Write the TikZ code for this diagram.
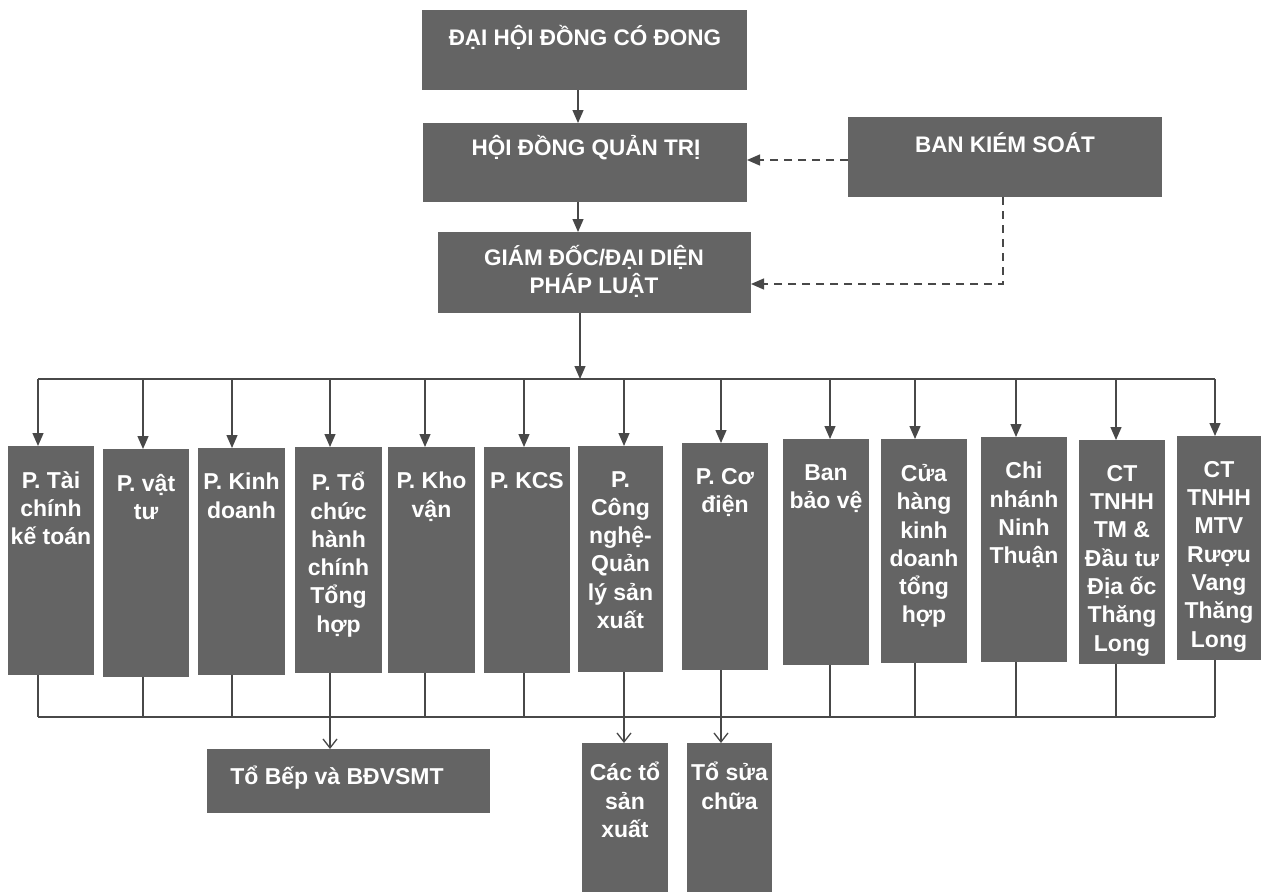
\documentclass[tikz,border=0pt]{standalone}
\usepackage{fontspec}
\setmainfont{Liberation Sans}
\usetikzlibrary{arrows.meta}
\definecolor{boxgray}{RGB}{100,100,100}
\definecolor{linegray}{RGB}{72,72,72}
\newcommand\orgrect[5]{%
  \node[orgbox, minimum width={(#4-#2)*1pt}, minimum height={(#5-#3)*1pt}] (#1) at ({(#2+#4)/2},{(#3+#5)/2}) {};}
\newcommand\deptunit[7]{%
  \orgrect{d#1}{#2}{#3}{#4}{#5}
  \node[deptlbl] (t#1) at ([yshift=-25pt]d#1.north) {#7};
  \coordinate (u#1) at (#6,379);
  \coordinate (l#1) at (#6,717);
  \draw[arr] (u#1) -- (u#1 |- d#1.north);}
\begin{document}
\begin{tikzpicture}[x=1pt,y=-1pt,
  orgbox/.style={fill=boxgray, draw=none, inner sep=0pt, outer sep=0pt},
  lbl/.style={text=white, font=\bfseries\fontsize{22.5}{28}\selectfont, align=center, inner sep=0pt},
  deptlbl/.style={text=white, font=\bfseries\fontsize{23}{28.3}\selectfont, align=center, inner sep=0pt, anchor=north},
  conn/.style={draw=linegray, line width=1.3pt},
  arr/.style={conn, -{Triangle[length=13pt,width=11pt]}},
  openarr/.style={conn, -{Straight Barb[length=9pt,width=14pt]}},
  dasharr/.style={conn, dash pattern=on 8pt off 6pt, -{Triangle[length=13pt,width=11pt]}},
]
\useasboundingbox[fill=white] (0,0) rectangle (1262,892);

% top level boxes
\orgrect{A}{422}{10}{747}{90}
\node[lbl] (tA) at (585,37) {ĐẠI HỘI ĐỒNG CÓ ĐONG};
\orgrect{B}{423}{123}{747}{202}
\node[lbl] (tB) at (586,148) {HỘI ĐỒNG QUẢN TRỊ};
\orgrect{C}{438}{232}{751}{313}
\node[lbl] (tC) at (594,271) {GIÁM ĐỐC/ĐẠI DIỆN\\PHÁP LUẬT};
\orgrect{D}{848}{117}{1162}{197}
\node[lbl] (tD) at (1005,143) {BAN KIÉM SOÁT};

\coordinate (ab) at (578,0);
\draw[arr] (A.south -| ab) -- (B.north -| ab);
\draw[arr] (B.south -| ab) -- (C.north -| ab);

\coordinate (dk) at (1003,284);
\coordinate (dj) at (848,160);
\draw[dasharr] (dj) -- (dj -| B.east);
\draw[dasharr] (D.south -| dk) -- (dk) -- (dk -| C.east);

% departments
\deptunit{1}{8}{446}{94}{675}{38}{P. Tài\\chính\\kế toán}
\deptunit{2}{103}{449}{189}{677}{143}{P. vật\\tư}
\deptunit{3}{198}{448}{285}{675}{232}{P. Kinh\\doanh}
\deptunit{4}{295}{447}{382}{673}{330}{P. Tổ\\chức\\hành\\chính\\Tổng\\hợp}
\deptunit{5}{388}{447}{475}{673}{425}{P. Kho\\vận}
\deptunit{6}{484}{447}{570}{673}{524}{P. KCS}
\deptunit{7}{578}{446}{663}{672}{624}{P.\\Công\\nghệ-\\Quản\\lý sản\\xuất}
\deptunit{8}{682}{443}{768}{670}{721}{P. Cơ\\điện}
\deptunit{9}{783}{439}{869}{665}{830}{Ban\\bảo vệ}
\deptunit{10}{881}{439}{967}{663}{915}{Cửa\\hàng\\kinh\\doanh\\tổng\\hợp}
\deptunit{11}{981}{437}{1067}{662}{1016}{Chi\\nhánh\\Ninh\\Thuận}
\deptunit{12}{1079}{440}{1165}{664}{1116}{CT\\TNHH\\TM \&\\Đầu tư\\Địa ốc\\Thăng\\Long}
\deptunit{13}{1177}{436}{1261}{660}{1215}{CT\\TNHH\\MTV\\Rượu\\Vang\\Thăng\\Long}

% top bus
\coordinate (cx) at (580,379);
\draw[arr] (C.south -| cx) -- (cx);
\draw[conn] (u1) -- (u13);

% bottom level boxes
\orgrect{bep}{207}{749}{490}{813}
\node[lbl, font=\bfseries\fontsize{23}{28}\selectfont] (tbep) at (337,778) {Tổ Bếp và BĐVSMT};
\orgrect{sx}{582}{743}{668}{892}
\node[deptlbl] (tsx) at ([yshift=-19pt]sx.north) {Các tổ\\sản\\xuất};
\orgrect{sc}{687}{743}{772}{892}
\node[deptlbl] (tsc) at ([yshift=-19pt]sc.north) {Tổ sửa\\chữa};

% bottom bus and links
\draw[conn] (l1) -- (l13);
\foreach \i in {1,2,3,5,6,9,10,11,12,13} {
  \draw[conn] (d\i.south -| l\i) -- (l\i);
}
\draw[openarr] (d4.south -| l4) -- (l4 |- bep.north);
\draw[openarr] (d7.south -| l7) -- (l7 |- sx.north);
\draw[openarr] (d8.south -| l8) -- (l8 |- sc.north);
\end{tikzpicture}
\end{document}
